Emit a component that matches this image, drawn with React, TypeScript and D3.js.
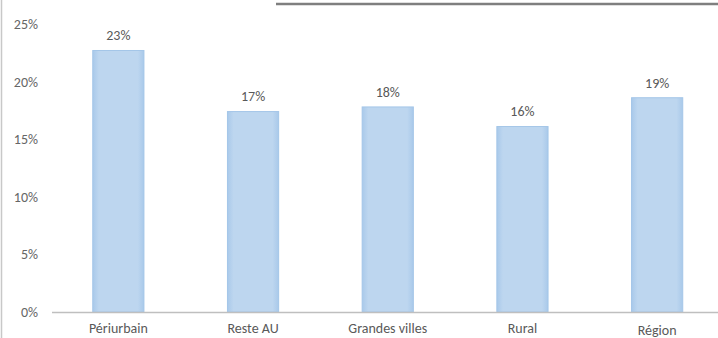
import React from "react";
import * as d3 from "d3";

const categories = ["Périurbain", "Reste AU", "Grandes villes", "Rural", "Région"];
const values = [0.227, 0.174, 0.178, 0.161, 0.186];
const labels = ["23%", "17%", "18%", "16%", "19%"];
const yTicks = [0, 0.05, 0.1, 0.15, 0.2, 0.25];

const W = 718;
const H = 338;

export default function App() {
  const x = d3
    .scaleBand<string>()
    .domain(categories)
    .range([51, 724.5])
    .paddingInner(0.62)
    .paddingOuter(0.31);
  const y = d3.scaleLinear().domain([0, 0.25]).range([312, 24]);
  const fmt = d3.format(".0%");
  const font = "Carlito, 'Open Sans', 'Liberation Sans', sans-serif";

  return (
    <svg
      width={W}
      height={H}
      style={{ position: "fixed", left: 0, top: 0, background: "#fff" }}
      fontFamily={font}
    >
      <defs>
        <linearGradient id="barg" x1="0" x2="1" y1="0" y2="0">
          <stop offset="0" stopColor="#a9c9ea" />
          <stop offset="0.12" stopColor="#bdd6ef" />
          <stop offset="0.88" stopColor="#bdd6ef" />
          <stop offset="1" stopColor="#a9c9ea" />
        </linearGradient>
      </defs>
      <line x1={1.5} x2={1.5} y1={0} y2={H} stroke="#c8c8c8" strokeWidth={1.5} />
      <line x1={276} x2={W} y1={4} y2={4} stroke="#7f7f7f" strokeWidth={2.5} />
      {yTicks.map((t) => (
        <text
          key={t}
          x={38}
          y={y(t)}
          dy="0.35em"
          textAnchor="end"
          fontSize={14}
          fill="#666666"
        >
          {fmt(t)}
        </text>
      ))}
      {categories.map((c, i) => (
        <g key={c}>
          <rect
            x={x(c)!}
            y={y(values[i])}
            width={x.bandwidth()}
            height={y(0) - y(values[i])}
            fill="url(#barg)"
            stroke="#a4c6e8"
            strokeWidth={1}
          />
          <text
            x={x(c)! + x.bandwidth() / 2}
            y={y(values[i]) - 15}
            dy="0.35em"
            textAnchor="middle"
            fontSize={14}
            fill="#595959"
          >
            {labels[i]}
          </text>
          <text
            x={x(c)! + x.bandwidth() / 2}
            y={i === 4 ? 335 : 333}
            textAnchor="middle"
            fontSize={14}
            fill="#595959"
          >
            {c}
          </text>
        </g>
      ))}
      <line x1={52} x2={W} y1={312.5} y2={312.5} stroke="#bfbfbf" strokeWidth={1.5} />
    </svg>
  );
}
